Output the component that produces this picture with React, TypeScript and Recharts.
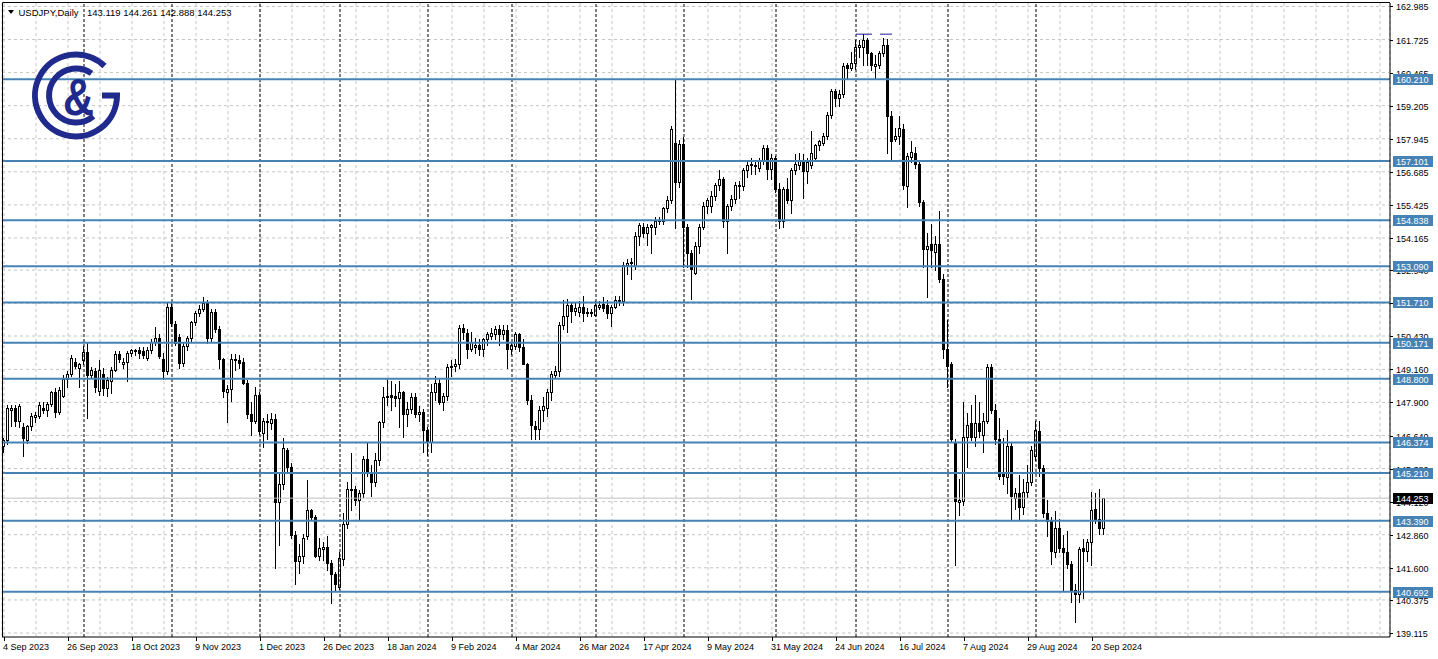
import React from "react";
import {
  ComposedChart,
  Bar,
  XAxis,
  YAxis,
  CartesianGrid,
  ReferenceLine,
} from "recharts";

// daily candles as [open, high, low, close], one small array per month
const SEP_2023 = [
  [146.25, 146.55, 146.0, 146.45], [146.45, 147.8, 146.3, 147.68], [147.6, 147.8, 147.0, 147.7],
  [147.7, 147.8, 147.0, 147.2], [147.2, 147.85, 146.95, 147.75], [146.95, 147.1, 145.85, 146.55],
  [146.45, 147.05, 146.35, 147.0], [147.0, 147.5, 146.85, 147.38], [147.35, 147.55, 147.15, 147.42],
  [147.4, 147.93, 147.3, 147.8], [147.7, 147.92, 147.5, 147.6], [147.6, 147.9, 147.4, 147.85],
  [147.85, 148.35, 147.75, 148.3], [148.3, 148.45, 147.35, 147.55], [147.55, 148.5, 147.45, 148.37],
  [148.15, 148.95, 148.1, 148.8], [148.8, 149.1, 148.5, 149.0], [149.0, 149.7, 148.9, 149.6],
  [149.45, 149.6, 149.2, 149.3], [149.2, 149.4, 148.5, 149.35],
];
const OCT_2023 = [
  [149.5, 150.05, 149.35, 149.83], [149.83, 150.16, 147.3, 148.95], [148.95, 149.25, 148.85, 149.14],
  [149.1, 149.2, 148.3, 148.5], [148.35, 149.5, 148.2, 149.15], [149.0, 149.2, 148.2, 148.45],
  [148.45, 148.85, 148.15, 148.75], [148.7, 149.25, 148.25, 149.15], [149.15, 149.85, 149.1, 149.75],
  [149.75, 149.85, 149.45, 149.55], [149.35, 149.6, 149.2, 149.45], [149.45, 149.85, 148.7, 149.8],
  [149.8, 149.95, 149.65, 149.88], [149.85, 149.95, 149.7, 149.9], [149.9, 150.0, 149.6, 149.8],
  [149.85, 150.0, 149.6, 149.7], [149.6, 150.0, 149.5, 149.9], [149.9, 150.3, 149.8, 150.2],
  [150.2, 150.78, 150.1, 150.35], [150.35, 150.5, 149.6, 149.65], [149.55, 149.8, 148.8, 149.1],
  [149.1, 151.7, 149.0, 151.55],
];
const NOV_2023 = [
  [151.55, 151.72, 150.8, 150.92], [150.9, 151.0, 150.1, 150.15], [150.4, 150.5, 149.2, 149.4],
  [149.4, 150.15, 149.3, 150.05], [150.05, 150.45, 149.9, 150.35], [150.35, 151.0, 150.2, 150.95],
  [150.95, 151.4, 150.85, 151.3], [151.3, 151.6, 151.2, 151.45], [151.45, 151.9, 151.4, 151.7],
  [151.7, 151.8, 150.15, 150.35], [150.35, 151.45, 150.2, 151.35], [151.35, 151.45, 150.6, 150.7],
  [150.7, 150.8, 149.2, 149.55], [149.55, 149.6, 148.1, 148.35], [148.3, 148.55, 147.15, 148.4],
  [148.4, 149.75, 147.95, 149.55], [149.55, 149.75, 149.15, 149.5], [149.5, 149.7, 149.2, 149.4],
  [149.45, 149.6, 148.6, 148.65], [148.65, 148.75, 147.3, 147.45], [147.45, 147.9, 146.65, 147.2],
  [147.2, 148.5, 147.1, 148.2],
];
const DEC_2023 = [
  [148.2, 148.3, 146.7, 146.8], [146.75, 147.3, 146.2, 147.2], [147.15, 147.45, 146.5, 147.2],
  [147.1, 147.5, 146.9, 147.28], [147.28, 147.45, 141.6, 144.1], [144.1, 145.2, 142.45, 144.8],
  [144.8, 146.55, 144.6, 146.15], [146.1, 146.15, 145.2, 145.43], [145.45, 145.6, 142.75, 142.85],
  [142.85, 143.0, 140.97, 141.85], [141.85, 142.5, 141.4, 142.05], [142.05, 142.9, 141.8, 142.75],
  [142.8, 144.95, 142.7, 143.8], [143.8, 143.85, 143.45, 143.55], [143.55, 143.6, 142.0, 142.05],
  [142.05, 142.75, 141.9, 142.35], [142.3, 142.6, 141.9, 142.4], [142.4, 142.8, 141.5, 141.8],
  [141.8, 141.9, 140.25, 141.35], [141.35, 141.45, 140.7, 141.0],
];
const JAN_2024 = [
  [140.85, 142.2, 140.8, 141.97], [141.95, 143.7, 141.7, 143.25], [143.25, 144.85, 143.1, 144.6],
  [144.58, 145.97, 143.8, 144.62], [144.6, 144.7, 144.0, 144.2], [144.2, 144.55, 143.42, 144.45],
  [144.45, 145.85, 144.3, 145.75], [145.75, 146.4, 145.1, 145.25], [145.25, 145.5, 144.35, 144.85],
  [144.85, 145.97, 144.7, 145.7], [145.7, 147.2, 145.5, 147.15], [147.15, 148.5, 146.95, 148.1],
  [148.1, 148.8, 147.8, 148.15], [148.18, 148.7, 147.6, 148.1], [148.15, 148.6, 147.75, 148.05],
  [148.05, 148.7, 146.95, 148.3], [148.3, 148.35, 146.6, 147.45], [147.45, 147.9, 147.0, 147.65],
  [147.65, 148.25, 147.5, 148.12], [148.1, 148.25, 147.35, 147.45], [147.45, 147.75, 147.2, 147.55],
  [147.55, 147.65, 146.0, 146.85],
];
const FEB_2024 = [
  [146.85, 146.95, 145.9, 146.4], [146.4, 148.6, 146.0, 148.3], [148.3, 148.9, 148.0, 148.65],
  [148.65, 148.8, 147.85, 147.9], [147.9, 148.25, 147.6, 148.15], [148.15, 149.35, 148.0, 149.25],
  [149.25, 149.5, 148.9, 149.3], [149.3, 149.55, 149.1, 149.35], [149.35, 150.85, 149.2, 150.75],
  [150.75, 150.9, 150.3, 150.6], [150.55, 150.7, 149.6, 149.95], [149.95, 150.6, 149.85, 150.2],
  [150.02, 150.35, 149.8, 150.1], [150.1, 150.3, 149.7, 149.95], [149.95, 150.35, 149.65, 150.3],
  [150.3, 150.6, 150.1, 150.5], [150.45, 150.75, 150.3, 150.55], [150.5, 150.8, 150.3, 150.7],
  [150.7, 150.85, 150.1, 150.5], [150.5, 150.85, 150.3, 150.65], [150.65, 150.85, 149.2, 149.95],
];
const MAR_2024 = [
  [149.95, 150.2, 149.75, 150.1], [150.05, 150.6, 149.95, 150.5], [150.5, 150.55, 149.85, 150.0],
  [150.0, 150.3, 149.35, 149.38], [149.35, 149.4, 147.85, 148.0], [148.0, 148.2, 146.5, 147.05],
  [147.0, 147.2, 146.5, 146.88], [146.88, 147.75, 146.5, 147.6], [147.6, 148.1, 147.2, 147.75],
  [147.7, 148.4, 147.4, 148.3], [148.3, 149.1, 148.0, 149.0], [148.95, 149.3, 148.85, 149.1],
  [149.1, 150.95, 148.9, 150.85], [150.85, 151.8, 150.7, 151.2], [151.2, 151.85, 150.6, 151.6],
  [151.6, 151.7, 150.98, 151.4], [151.4, 151.7, 151.25, 151.5], [151.35, 151.75, 151.2, 151.55],
  [151.55, 151.97, 151.0, 151.3], [151.3, 151.5, 151.2, 151.36], [151.3, 151.45, 151.2, 151.36],
];
const APR_2024 = [
  [151.25, 151.75, 151.2, 151.6], [151.55, 151.75, 151.45, 151.6], [151.65, 151.9, 151.4, 151.5],
  [151.6, 151.8, 151.1, 151.3], [151.3, 151.6, 150.8, 151.55], [151.55, 151.95, 151.5, 151.8],
  [151.75, 151.95, 151.6, 151.8], [151.75, 153.25, 151.6, 153.15], [153.15, 153.35, 152.8, 153.2],
  [153.2, 153.4, 152.6, 153.25], [153.1, 154.4, 153.0, 154.25], [154.25, 154.75, 153.9, 154.65],
  [154.6, 154.75, 154.2, 154.35], [154.35, 154.7, 153.9, 154.6], [154.6, 154.7, 153.6, 154.65],
  [154.6, 154.95, 154.3, 154.8], [154.8, 154.95, 154.7, 154.85], [154.8, 155.35, 154.7, 155.3],
  [155.3, 155.75, 155.15, 155.6], [155.6, 158.45, 155.5, 158.3], [157.8, 160.2, 154.55, 156.3],
  [156.3, 157.9, 156.1, 157.75],
];
const MAY_2024 = [
  [157.75, 158.0, 153.05, 154.6], [154.6, 154.7, 153.05, 153.6], [153.6, 153.7, 151.85, 153.0],
  [152.85, 154.0, 152.8, 153.85], [153.85, 154.7, 153.6, 154.6], [154.6, 155.55, 154.5, 155.4],
  [155.4, 155.7, 155.1, 155.6], [155.4, 155.95, 155.15, 155.75], [155.75, 156.25, 155.6, 156.2],
  [156.2, 156.75, 156.0, 156.4], [156.4, 156.5, 154.6, 154.8], [154.8, 155.45, 153.6, 155.4],
  [155.4, 155.8, 155.25, 155.65], [155.65, 156.3, 155.5, 156.2], [156.2, 156.35, 155.7, 156.15],
  [156.15, 156.85, 156.0, 156.75], [156.75, 157.15, 156.5, 156.95], [156.95, 157.2, 156.6, 157.0],
  [156.95, 157.1, 156.6, 156.9], [156.85, 157.2, 156.7, 157.15], [157.15, 157.7, 157.0, 157.6],
  [157.6, 157.7, 156.4, 156.8], [156.8, 157.35, 156.4, 157.2],
];
const JUN_2024 = [
  [157.2, 157.3, 155.9, 156.05], [156.05, 156.25, 154.55, 154.8], [154.8, 156.1, 154.6, 156.05],
  [156.05, 156.45, 155.5, 155.6], [155.6, 156.85, 155.1, 156.75], [156.75, 157.35, 156.6, 157.0],
  [156.95, 157.4, 156.8, 157.1], [157.1, 157.35, 155.7, 156.7], [156.7, 157.2, 156.25, 157.05],
  [156.95, 158.25, 156.85, 157.4], [157.2, 157.75, 157.1, 157.7], [157.7, 157.9, 157.5, 157.85],
  [157.8, 158.15, 157.7, 158.05], [158.05, 158.95, 157.95, 158.85], [158.85, 159.85, 158.75, 159.75],
  [159.75, 159.85, 159.2, 159.5], [159.5, 159.8, 159.2, 159.65], [159.65, 160.85, 159.55, 160.7],
  [160.75, 160.85, 160.25, 160.65], [160.65, 161.25, 160.55, 160.85],
];
const JUL_2024 = [
  [160.85, 161.72, 160.6, 161.45], [161.45, 161.7, 161.05, 161.5], [161.45, 161.95, 160.75, 161.7],
  [161.7, 161.8, 160.75, 161.2], [161.2, 161.25, 160.55, 160.75], [160.7, 161.15, 160.25, 160.8],
  [160.75, 161.3, 160.65, 161.2], [161.2, 161.8, 161.1, 161.5], [161.5, 161.75, 157.4, 158.8],
  [158.8, 159.0, 157.15, 157.85], [157.95, 158.35, 157.85, 158.05], [158.05, 158.8, 157.75, 158.35],
  [158.3, 158.5, 156.05, 156.2], [156.15, 157.4, 155.35, 157.3], [157.25, 157.85, 157.05, 157.45],
  [157.4, 157.65, 156.85, 157.0], [157.0, 157.15, 155.4, 155.55], [155.55, 155.6, 153.05, 153.75],
  [153.75, 154.35, 151.9, 153.85], [153.95, 154.7, 153.05, 153.7], [153.65, 154.25, 152.95, 153.95],
  [153.95, 155.2, 152.5, 152.6], [152.6, 152.8, 149.6, 149.95],
];
const AUG_2024 = [
  [149.95, 151.05, 148.5, 149.3], [149.35, 149.45, 146.4, 146.5], [146.4, 146.5, 141.7, 144.15],
  [144.1, 145.0, 143.6, 144.2], [144.15, 147.9, 144.0, 146.6], [146.6, 147.5, 145.45, 147.05],
  [147.1, 147.8, 146.45, 146.6], [146.6, 148.2, 146.25, 147.1], [147.1, 147.9, 146.6, 146.8],
  [146.65, 147.5, 146.0, 147.2], [147.2, 149.35, 147.1, 149.25], [149.25, 149.35, 147.5, 147.6],
  [147.6, 147.85, 146.3, 146.5], [146.5, 147.3, 145.0, 145.1], [145.2, 146.55, 144.8, 145.1],
  [145.05, 146.85, 144.45, 146.25], [146.25, 146.35, 143.45, 144.35], [144.25, 144.65, 143.85, 144.45],
  [144.45, 145.15, 143.45, 143.9], [143.9, 145.0, 143.65, 144.5], [144.5, 145.5, 144.3, 144.85],
  [144.85, 146.25, 144.75, 146.1],
];
const SEP_2024 = [
  [145.85, 147.2, 145.7, 146.85], [146.8, 147.2, 145.1, 145.4], [145.4, 145.5, 143.55, 143.7],
  [143.7, 144.2, 142.8, 143.4], [143.4, 143.55, 141.75, 142.25], [142.2, 143.75, 142.0, 143.1],
  [143.1, 143.45, 142.2, 142.35], [142.35, 142.85, 140.7, 142.2], [142.2, 143.0, 141.6, 141.75],
  [141.75, 141.85, 140.28, 140.75], [140.75, 141.0, 139.55, 140.6], [140.6, 142.4, 140.3, 142.3],
  [142.35, 142.7, 140.45, 142.25], [142.25, 142.7, 141.85, 142.6], [142.6, 144.5, 141.7, 143.8],
  [143.85, 144.45, 143.3, 143.45], [143.45, 144.6, 142.9, 143.1], [143.119, 144.261, 142.888, 144.253],
];

// one label every 16 bars, starting at bar 0
const DATE_LABELS = [
  "4 Sep 2023", "26 Sep 2023", "18 Oct 2023", "9 Nov 2023", "1 Dec 2023", "26 Dec 2023",
  "18 Jan 2024", "9 Feb 2024", "4 Mar 2024", "26 Mar 2024", "17 Apr 2024", "9 May 2024",
  "31 May 2024", "24 Jun 2024", "16 Jul 2024", "7 Aug 2024", "29 Aug 2024", "20 Sep 2024",
];
// bar index of the first trading day of each month (period separators)
const MONTH_STARTS = [20, 42, 64, 84, 106, 127, 148, 170, 193, 213, 236, 258];

const PRICE_TICKS = [
  162.985, 161.725, 160.465, 159.205, 157.945, 156.685, 155.425, 154.165, 152.94, 151.68,
  150.43, 149.16, 147.9, 146.64, 145.38, 144.12, 142.86, 141.6, 140.375, 139.115,
];
const LEVELS = [160.21, 157.101, 154.838, 153.09, 151.71, 150.171, 148.8, 146.374, 145.21, 143.39, 140.692];
const HIGH_MARKS = [
  { from: 213, to: 217, price: 161.93 },
  { from: 219, to: 222, price: 161.93 },
];
const SYMBOL = "USDJPY,Daily";

const CANDLES = [
  ...SEP_2023, ...OCT_2023, ...NOV_2023, ...DEC_2023, ...JAN_2024, ...FEB_2024, ...MAR_2024,
  ...APR_2024, ...MAY_2024, ...JUN_2024, ...JUL_2024, ...AUG_2024, ...SEP_2024,
];
const LAST = CANDLES[CANDLES.length - 1];
const EMPTY_SLOTS = 71; // chart shift on the right

const W = 1438;
const H = 659;
const AXIS_W = 48;
const DATE_H = 22;
const DOMAIN: [number, number] = [138.964, 163.117];
const FONT = "'Liberation Sans', Arial, sans-serif";
const LEVEL_COLOR = "#4682b4";

const data = [
  ...CANDLES.map((c, i) => ({ i, o: c[0], h: c[1], l: c[2], c: c[3] })),
  ...Array.from({ length: EMPTY_SLOTS }, (_, k) => ({ i: CANDLES.length + k })),
];
const gridTicks = data.filter((d) => d.i % 8 === 0).map((d) => d.i);
// scale labels first, then the price tags so that the tags sit on top
const scaleTicks = [...PRICE_TICKS, ...LEVELS, LAST[3]];

function Candle(props: any) {
  const { x, y, width, height, payload } = props;
  if (payload == null || payload.o == null || height == null) return null;
  const top = Math.min(y, y + height);
  const bottom = Math.max(y, y + height);
  const span = payload.h - payload.l;
  const k = span > 0 ? (bottom - top) / span : 0;
  const py = (p: number) => top + (payload.h - p) * k;
  const cx = Math.floor(x + width / 2) + 0.5;
  const up = payload.c >= payload.o;
  const bTop = Math.round(py(Math.max(payload.o, payload.c))) + 0.5;
  const bBot = Math.round(py(Math.min(payload.o, payload.c))) + 0.5;
  return (
    <g shapeRendering="crispEdges">
      <line x1={cx} x2={cx} y1={Math.round(top)} y2={Math.round(bottom) + 1} stroke="#000" />
      {bBot - bTop < 1 ? (
        <line x1={cx - 1.5} x2={cx + 1.5} y1={bTop} y2={bTop} stroke="#000" />
      ) : (
        <rect x={cx - 1} y={bTop} width={2} height={bBot - bTop} fill={up ? "#fff" : "#000"} stroke="#000" />
      )}
    </g>
  );
}

function DateTick(props: any) {
  const { x, payload } = props;
  const idx = payload.value;
  if (idx % 16 !== 0 || idx / 16 >= DATE_LABELS.length) return <g />;
  const px = Math.floor(x) + 0.5;
  const base = H - DATE_H;
  return (
    <g>
      <line x1={px} x2={px} y1={base} y2={base + 4} stroke="#000" />
      <text x={px - 1.5} y={base + 12.5} fontSize={9} fontFamily={FONT} fill="#000">
        {DATE_LABELS[idx / 16]}
      </text>
    </g>
  );
}

function PriceTick(props: any) {
  const { y, payload, index } = props;
  const v = payload.value;
  const axisX = W - AXIS_W;
  const cy = Math.round(y);
  if (index < PRICE_TICKS.length) {
    return (
      <g>
        <line x1={axisX} x2={axisX + 3} y1={cy + 0.5} y2={cy + 0.5} stroke="#000" />
        <text x={axisX + 6} y={cy + 3.5} fill="#000" fontSize={9} fontFamily={FONT}>
          {v.toFixed(3)}
        </text>
      </g>
    );
  }
  const isBid = v === LAST[3];
  return (
    <g>
      <rect x={axisX + 3} y={cy - 5} width={40} height={11} fill={isBid ? "#000" : LEVEL_COLOR} />
      <text x={axisX + 6} y={cy + 4} fill="#fff" fontSize={9} fontFamily={FONT}>
        {v.toFixed(3)}
      </text>
    </g>
  );
}

function Overlay() {
  const cx = 76;
  const cy = 95.5;
  const pt = (r: number, deg: number) => {
    const a = (deg * Math.PI) / 180;
    return `${(cx + r * Math.cos(a)).toFixed(1)} ${(cy + r * Math.sin(a)).toFixed(1)}`;
  };
  return (
    <svg width={W} height={H} style={{ position: "absolute", left: 0, top: 0, pointerEvents: "none" }}>
      <line x1={2.5} x2={2.5} y1={2.5} y2={H - DATE_H} stroke="#000" />
      <line x1={2.5} x2={W - AXIS_W} y1={2.5} y2={2.5} stroke="#000" />
      <polygon points="8,10 14,10 11,14" fill="#000" />
      <text x={18.5} y={15.5} fontSize={9.5} fontFamily={FONT} fill="#000">
        {SYMBOL}
      </text>
      <text x={87} y={15.5} fontSize={9.5} fontFamily={FONT} fill="#000">
        {LAST.map((v) => v.toFixed(3)).join(" ")}
      </text>
      <g stroke="#1f2a8c" strokeWidth={6} fill="none">
        <path d={`M${pt(41, -46)} A41 41 0 1 0 ${pt(41, 0)} L102 ${cy}`} />
        <path d={`M${pt(27, -55)} A27 27 0 1 0 ${pt(27, 50)}`} />
      </g>
      <text
        x={63}
        y={115}
        fontSize={52}
        fontWeight="bold"
        fontFamily={FONT}
        fill="#1f2a8c"
        textLength={31}
        lengthAdjust="spacingAndGlyphs"
      >
        &amp;
      </text>
    </svg>
  );
}

export default function App() {
  return (
    <div style={{ position: "absolute", left: 0, top: 0, width: W, height: H, background: "#fff" }}>
      <ComposedChart
        width={W}
        height={H}
        data={data}
        margin={{ top: 3, right: 0, bottom: 0, left: 2 }}
        barCategoryGap="10%"
      >
        <CartesianGrid stroke="#c4c4c4" strokeDasharray="3 3" horizontalValues={PRICE_TICKS} />
        <XAxis
          dataKey="i"
          type="category"
          ticks={gridTicks}
          interval={0}
          height={DATE_H}
          tickLine={false}
          axisLine={{ stroke: "#000" }}
          tick={<DateTick />}
        />
        <YAxis
          orientation="right"
          type="number"
          domain={DOMAIN}
          allowDataOverflow
          ticks={scaleTicks}
          interval={0}
          width={AXIS_W}
          tickLine={false}
          axisLine={{ stroke: "#000" }}
          tick={<PriceTick />}
        />
        {MONTH_STARTS.map((m) => (
          <ReferenceLine key={`m${m}`} x={m} stroke="#000" strokeDasharray="3 2" />
        ))}
        <Bar
          dataKey={(d: any) => (d.o == null ? undefined : [d.l, d.h])}
          isAnimationActive={false}
          shape={(p: any) => <Candle {...p} />}
        />
        <ReferenceLine y={LAST[3]} stroke="#c0c0c0" />
        {LEVELS.map((v) => (
          <ReferenceLine key={`l${v}`} y={v} stroke={LEVEL_COLOR} strokeWidth={2} />
        ))}
        {HIGH_MARKS.map((h) => (
          <ReferenceLine
            key={`h${h.from}`}
            segment={[
              { x: h.from, y: h.price },
              { x: h.to, y: h.price },
            ]}
            stroke="#1a1a9c"
          />
        ))}
      </ComposedChart>
      <Overlay />
    </div>
  );
}
